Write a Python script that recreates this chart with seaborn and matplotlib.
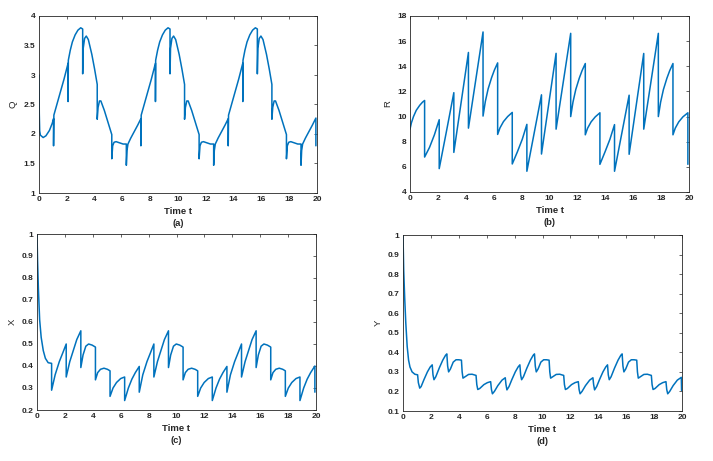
import numpy as np
import pandas as pd
import matplotlib
matplotlib.use("Agg")
import matplotlib.pyplot as plt
from matplotlib.ticker import FuncFormatter, MultipleLocator
import seaborn as sns

# ---------------- data ----------------
t_q = [0, 0.02, 0.05, 0.1, 0.3, 0.5, 0.75, 0.95, 1.047,
       1.047, 1.07, 1.2, 1.5, 1.8, 2.094,
       2.094, 2.11, 2.25, 2.4, 2.6, 2.8, 3.0, 3.142,
       3.142, 3.18, 3.28, 3.4, 3.55, 3.8, 4.0, 4.189,
       4.189, 4.25, 4.35, 4.45, 4.7, 5.0, 5.236,
       5.236, 5.3, 5.4, 5.55, 5.8, 6.05, 6.283,
       6.283, 6.33, 6.4, 6.6, 6.9, 7.1, 7.330,
       7.330, 7.353, 7.483, 7.783, 8.083, 8.378,
       8.378, 8.393, 8.533, 8.683, 8.883, 9.083, 9.283, 9.425,
       9.425, 9.463, 9.563, 9.683, 9.833, 10.083, 10.283, 10.472,
       10.472, 10.533, 10.633, 10.733, 10.983, 11.283, 11.519,
       11.519, 11.583, 11.683, 11.833, 12.083, 12.333, 12.566,
       12.566, 12.613, 12.683, 12.883, 13.183, 13.383, 13.614,
       13.614, 13.636, 13.766, 14.066, 14.366, 14.661,
       14.661, 14.676, 14.816, 14.966, 15.166, 15.366, 15.566, 15.708,
       15.708, 15.746, 15.846, 15.966, 16.116, 16.366, 16.566, 16.755,
       16.755, 16.816, 16.916, 17.016, 17.266, 17.566, 17.802,
       17.802, 17.866, 17.966, 18.116, 18.366, 18.616, 18.850,
       18.850, 18.896, 18.966, 19.166, 19.466, 19.666, 19.92,
       19.92]
q = [3.0, 2.35, 2.05, 1.98, 1.94, 1.97, 2.06, 2.18, 2.26,
     1.80, 2.32, 2.43, 2.68, 2.93, 3.20,
     2.55, 3.25, 3.42, 3.56, 3.68, 3.76, 3.80, 3.78,
     3.02, 3.45, 3.62, 3.66, 3.60, 3.35, 3.10, 2.84,
     2.25, 2.45, 2.56, 2.56, 2.40, 2.17, 1.99,
     1.58, 1.80, 1.86, 1.87, 1.85, 1.83, 1.83,
     1.47, 1.72, 1.83, 1.93, 2.06, 2.15, 2.26,
     1.80, 2.32, 2.43, 2.68, 2.93, 3.20,
     2.55, 3.25, 3.42, 3.56, 3.68, 3.76, 3.80, 3.78,
     3.02, 3.45, 3.62, 3.66, 3.60, 3.35, 3.10, 2.84,
     2.25, 2.45, 2.56, 2.56, 2.40, 2.17, 1.99,
     1.58, 1.80, 1.86, 1.87, 1.85, 1.83, 1.83,
     1.47, 1.72, 1.83, 1.93, 2.06, 2.15, 2.26,
     1.80, 2.32, 2.43, 2.68, 2.93, 3.20,
     2.55, 3.25, 3.42, 3.56, 3.68, 3.76, 3.80, 3.78,
     3.02, 3.45, 3.62, 3.66, 3.60, 3.35, 3.10, 2.84,
     2.25, 2.45, 2.56, 2.56, 2.40, 2.17, 1.99,
     1.58, 1.80, 1.86, 1.87, 1.85, 1.83, 1.83,
     1.47, 1.72, 1.83, 1.93, 2.06, 2.15, 2.27,
     1.80]

t_r = [0, 0.1, 0.25, 0.45, 0.7, 0.9, 1.047,
       1.047, 1.4, 1.75, 2.094,
       2.094, 2.6, 3.142,
       3.142, 4.189,
       4.189, 5.236,
       5.236, 5.4, 5.6, 5.85, 6.05, 6.283,
       6.283, 6.45, 6.7, 7.0, 7.330,
       7.330, 7.7, 8.05, 8.378,
       8.378, 9.425,
       9.425, 10.472,
       10.472, 11.519,
       11.519, 11.683, 11.883, 12.133, 12.333, 12.566,
       12.566, 12.733, 12.983, 13.283, 13.614,
       13.614, 13.983, 14.333, 14.661,
       14.661, 15.708,
       15.708, 16.755,
       16.755, 17.802,
       17.802, 17.966, 18.166, 18.416, 18.616, 18.850,
       18.850, 19.016, 19.266, 19.566, 19.92,
       19.92]
r = [9.0, 9.5, 10.0, 10.5, 10.9, 11.15, 11.28,
     6.78, 7.55, 8.55, 9.75,
     5.86, 8.75, 11.9,
     7.15, 15.1,
     9.08, 16.73,
     10.04, 11.2, 12.2, 13.1, 13.7, 14.27,
     8.58, 9.1, 9.6, 10.0, 10.33,
     6.23, 7.2, 8.2, 9.38,
     5.65, 11.73,
     7.02, 15.03,
     9.0, 16.62,
     10.0, 11.15, 12.15, 13.05, 13.65, 14.22,
     8.55, 9.08, 9.58, 9.98, 10.3,
     6.2, 7.2, 8.2, 9.36,
     5.65, 11.7,
     7.0, 15.02,
     9.0, 16.62,
     10.0, 11.15, 12.15, 13.05, 13.65, 14.22,
     8.55, 9.08, 9.58, 9.98, 10.3,
     6.2]

t_x = [0, 0.04, 0.1, 0.19, 0.3, 0.45, 0.6, 0.8, 1.047,
       1.047, 1.3, 1.6, 1.85, 2.094,
       2.094, 2.35, 2.6, 2.85, 3.142,
       3.142, 3.3, 3.5, 3.7, 3.95, 4.189,
       4.189, 4.35, 4.55, 4.8, 5.05, 5.236,
       5.236, 5.45, 5.7, 6.0, 6.283,
       6.283, 6.55, 6.8, 7.05, 7.330,
       7.330, 7.583, 7.883, 8.133, 8.378,
       8.378, 8.633, 8.883, 9.133, 9.425,
       9.425, 9.583, 9.783, 9.983, 10.233, 10.472,
       10.472, 10.633, 10.833, 11.083, 11.333, 11.519,
       11.519, 11.733, 11.983, 12.283, 12.566,
       12.566, 12.833, 13.083, 13.333, 13.614,
       13.614, 13.866, 14.166, 14.416, 14.661,
       14.661, 14.916, 15.166, 15.416, 15.708,
       15.708, 15.866, 16.066, 16.266, 16.516, 16.755,
       16.755, 16.916, 17.116, 17.366, 17.616, 17.802,
       17.802, 18.016, 18.266, 18.566, 18.850,
       18.850, 19.116, 19.366, 19.616, 19.92,
       19.92]
x_vals = [1.0, 0.88, 0.75, 0.61, 0.53, 0.47, 0.435, 0.415, 0.412,
          0.29, 0.36, 0.42, 0.46, 0.50,
          0.35, 0.42, 0.47, 0.52, 0.56,
          0.393, 0.45, 0.49, 0.50, 0.495, 0.486,
          0.337, 0.37, 0.385, 0.39, 0.385, 0.378,
          0.262, 0.30, 0.325, 0.343, 0.35,
          0.243, 0.30, 0.34, 0.37, 0.398,
          0.281, 0.36, 0.42, 0.46, 0.50,
          0.35, 0.42, 0.47, 0.52, 0.56,
          0.393, 0.45, 0.49, 0.50, 0.495, 0.486,
          0.337, 0.37, 0.385, 0.39, 0.385, 0.378,
          0.262, 0.30, 0.325, 0.343, 0.35,
          0.243, 0.30, 0.34, 0.37, 0.398,
          0.281, 0.36, 0.42, 0.46, 0.50,
          0.35, 0.42, 0.47, 0.52, 0.56,
          0.393, 0.45, 0.49, 0.50, 0.495, 0.486,
          0.337, 0.37, 0.385, 0.39, 0.385, 0.378,
          0.262, 0.30, 0.325, 0.343, 0.35,
          0.243, 0.30, 0.34, 0.37, 0.40,
          0.281]

t_y = [0, 0.05, 0.12, 0.2, 0.3, 0.4, 0.5, 0.65, 0.85, 1.047,
       1.1, 1.2, 1.3, 1.5, 1.75, 1.95, 2.094,
       2.15, 2.22, 2.35, 2.6, 2.85, 3.05, 3.142,
       3.2, 3.27, 3.4, 3.6, 3.8, 4.0, 4.189,
       4.24, 4.3, 4.45, 4.7, 4.95, 5.236,
       5.29, 5.36, 5.5, 5.8, 6.05, 6.283,
       6.34, 6.41, 6.55, 6.8, 7.1, 7.330,
       7.383, 7.45, 7.6, 7.8, 8.05, 8.25, 8.378,
       8.433, 8.503, 8.633, 8.883, 9.133, 9.333, 9.425,
       9.483, 9.553, 9.683, 9.883, 10.083, 10.283, 10.472,
       10.523, 10.583, 10.733, 10.983, 11.233, 11.519,
       11.573, 11.643, 11.783, 12.083, 12.333, 12.566,
       12.623, 12.693, 12.833, 13.083, 13.383, 13.614,
       13.666, 13.733, 13.883, 14.083, 14.333, 14.533, 14.661,
       14.716, 14.786, 14.916, 15.166, 15.416, 15.616, 15.708,
       15.766, 15.836, 15.966, 16.166, 16.366, 16.566, 16.755,
       16.806, 16.866, 17.016, 17.266, 17.516, 17.802,
       17.856, 17.926, 18.066, 18.366, 18.616, 18.850,
       18.906, 18.976, 19.116, 19.366, 19.666, 19.95,
       19.97]
y_vals = [1.0, 0.82, 0.68, 0.55, 0.43, 0.36, 0.325, 0.30, 0.288, 0.285,
          0.245, 0.217, 0.225, 0.26, 0.30, 0.325, 0.336,
          0.285, 0.26, 0.275, 0.32, 0.36, 0.385, 0.392,
          0.33, 0.30, 0.315, 0.35, 0.362, 0.362, 0.36,
          0.30, 0.268, 0.275, 0.287, 0.288, 0.282,
          0.235, 0.21, 0.215, 0.235, 0.245, 0.25,
          0.21, 0.188, 0.20, 0.23, 0.258, 0.27,
          0.235, 0.208, 0.225, 0.26, 0.30, 0.325, 0.336,
          0.285, 0.26, 0.275, 0.32, 0.36, 0.385, 0.392,
          0.33, 0.30, 0.315, 0.35, 0.362, 0.362, 0.36,
          0.30, 0.268, 0.275, 0.287, 0.288, 0.282,
          0.235, 0.21, 0.215, 0.235, 0.245, 0.25,
          0.21, 0.188, 0.20, 0.23, 0.258, 0.27,
          0.235, 0.208, 0.225, 0.26, 0.30, 0.325, 0.336,
          0.285, 0.26, 0.275, 0.32, 0.36, 0.385, 0.392,
          0.33, 0.30, 0.315, 0.35, 0.362, 0.362, 0.36,
          0.30, 0.268, 0.275, 0.287, 0.288, 0.282,
          0.235, 0.21, 0.215, 0.235, 0.245, 0.25,
          0.21, 0.188, 0.20, 0.23, 0.258, 0.272,
          0.205]

panel_names = ["Q", "R", "X", "Y"]
captions = ["(a)", "(b)", "(c)", "(d)"]
xlabel_text = "Time t"
ylims = [(1, 4), (4, 18), (0.2, 1), (0.1, 1)]
ysteps = [0.5, 2, 0.1, 0.1]

# ---------------- figure ----------------
sns.set_theme(style="white")
plt.rcParams["font.family"] = ["Liberation Sans", "DejaVu Sans"]

W, H = 713, 461
fig = plt.figure(figsize=(W / 100, H / 100), dpi=100)

# axes boxes in pixels: left, right, top, bottom
boxes = [(39, 317, 16, 193), (410, 689, 16, 192),
         (37, 316, 234, 410), (403, 682, 235, 411)]
series = [(t_q, q), (t_r, r), (t_x, x_vals), (t_y, y_vals)]
ylab_x = [13, 388, 12, 378]
color = "#0072BD"
fmt = FuncFormatter(lambda v, p: f"{v:g}")

for i, ((l, rr, tp, bt), (tt, vv)) in enumerate(zip(boxes, series)):
    ax = fig.add_axes([l / W, 1 - bt / H, (rr - l) / W, (bt - tp) / H])
    df = pd.DataFrame({"t": tt, "v": vv})
    sns.lineplot(data=df, x="t", y="v", ax=ax, sort=False, estimator=None,
                 color=color, linewidth=1.1)
    ax.set_xlim(0, 20)
    ax.set_ylim(*ylims[i])
    ax.xaxis.set_major_locator(MultipleLocator(2))
    ax.yaxis.set_major_locator(MultipleLocator(ysteps[i]))
    ax.xaxis.set_major_formatter(fmt)
    ax.yaxis.set_major_formatter(fmt)
    ax.set_xlabel("")
    ax.set_ylabel("")
    for s in ax.spines.values():
        s.set_color("#262626")
        s.set_linewidth(0.6)
    ax.tick_params(direction="in", top=True, right=True, length=2.5,
                   width=0.5, labelsize=6.0, pad=2.5, colors="#262626")
    for lab in ax.get_xticklabels() + ax.get_yticklabels():
        lab.set_fontweight("bold")
    cx = (l + rr) / 2
    fig.text(cx / W, 1 - (bt + 18) / H, xlabel_text, ha="center", va="center",
             fontsize=6.8, fontweight="bold", color="#262626")
    fig.text(cx / W, 1 - (bt + 30) / H, captions[i], ha="center", va="center",
             fontsize=6.8, fontweight="bold", color="#262626")
    fig.text(ylab_x[i] / W, 1 - (tp + bt) / 2 / H, panel_names[i], rotation=90,
             ha="center", va="center", fontsize=6.8, color="#262626")

fig.savefig("out.png", dpi=100)
